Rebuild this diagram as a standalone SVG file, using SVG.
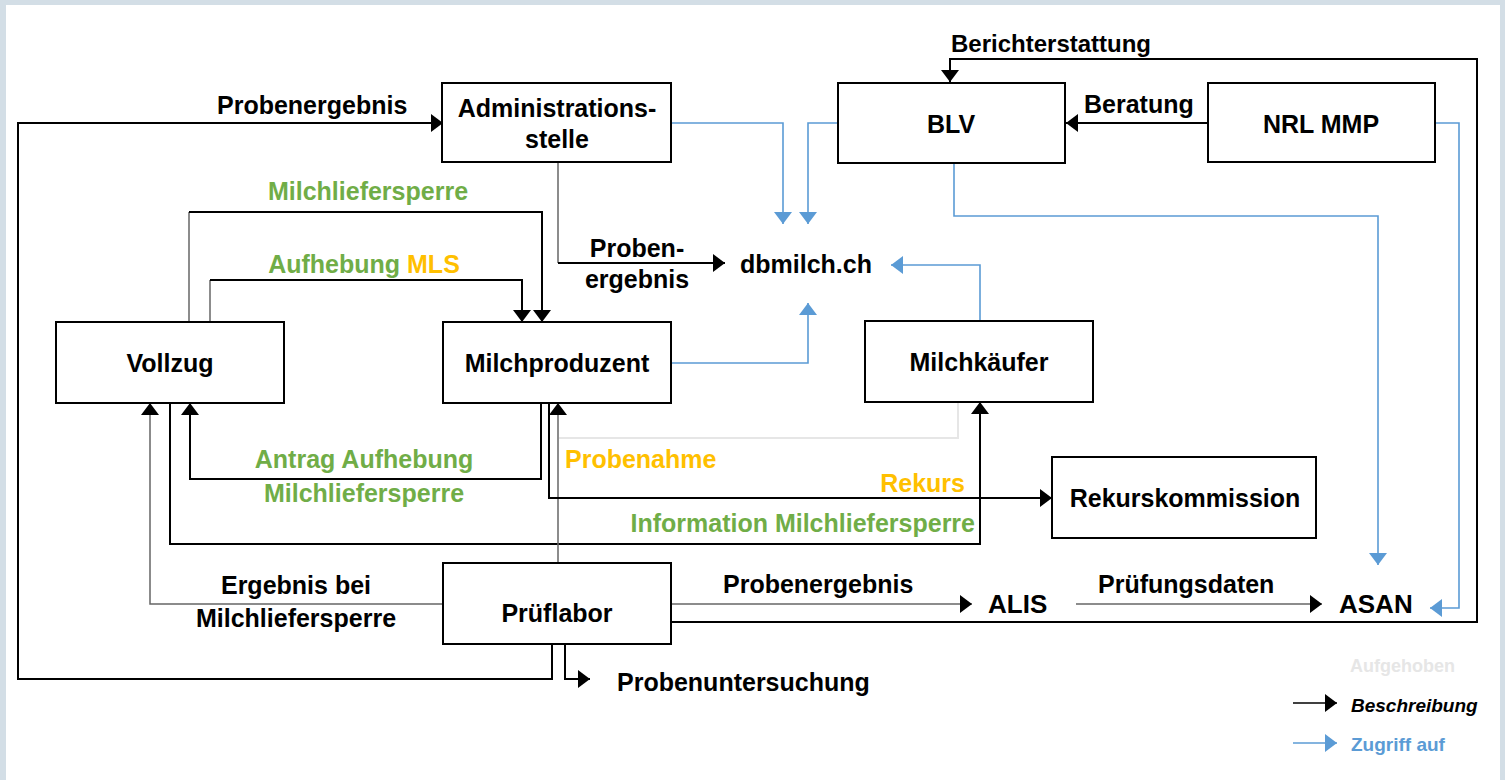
<svg xmlns="http://www.w3.org/2000/svg" width="1505" height="780" viewBox="0 0 1505 780">
<style>
text{font-family:"Liberation Sans",Arial,sans-serif;font-weight:bold;font-size:25px;fill:#000}
.node rect{fill:#fff;stroke:#000;stroke-width:2}
.k{fill:none;stroke:#000;stroke-width:2}
.g{fill:none;stroke:#666;stroke-width:1.5}
.b{fill:none;stroke:#5b9bd5;stroke-width:1.6}
.a{fill:none;stroke:#e6e6e6;stroke-width:2}
.gr{fill:#70ad47}
.or{fill:#ffc000}
.mid{text-anchor:middle}
.end{text-anchor:end}
text.s24{font-size:24px}
text.s26{font-size:26px}
text.lg{font-size:18px}
text.lg19{font-size:19px}
</style>
<defs>
<marker id="ak" markerUnits="userSpaceOnUse" markerWidth="13" markerHeight="18" refX="12" refY="9" orient="auto" overflow="visible">
<path d="M0,0 L12,9 L0,18 Z" fill="#000"/>
</marker>
<marker id="ab" markerUnits="userSpaceOnUse" markerWidth="13" markerHeight="18" refX="12" refY="9" orient="auto" overflow="visible">
<path d="M0,0 L12,9 L0,18 Z" fill="#5b9bd5"/>
</marker>
</defs>
<rect x="0" y="0" width="1505" height="780" fill="#d3dee6"/>
<rect x="6" y="5" width="1494" height="775" fill="#fff"/>

<g id="connectors">
<path class="k" d="M552,644 V679 H18 V123 H443" marker-end="url(#ak)"/>
<path class="g" d="M558,162 V263"/>
<path class="k" d="M558,263 H725" marker-end="url(#ak)"/>
<path class="g" d="M189,322 V212"/>
<path class="k" d="M189,212 H542 V322" marker-end="url(#ak)"/>
<path class="g" d="M210,322 V280"/>
<path class="k" d="M210,280 H522 V322" marker-end="url(#ak)"/>
<path class="k" d="M541,403 V479 H190 V403" marker-end="url(#ak)"/>
<path class="k" d="M170,403 V544 H980 V402" marker-end="url(#ak)"/>
<path class="g" d="M443,604 H150 V403" marker-end="url(#ak)"/>
<path class="a" d="M559,438 H958 V402"/>
<path class="g" d="M558,563 V403" marker-end="url(#ak)"/>
<path class="k" d="M549,403 V498 H1052" marker-end="url(#ak)"/>
<path class="k" d="M565,644 V679 H590" marker-end="url(#ak)"/>
<path class="g" d="M671,604 H972" marker-end="url(#ak)"/>
<path class="g" d="M1076,604 H1322" marker-end="url(#ak)"/>
<path class="k" d="M671,622 H1477 V59 H950 V82" marker-end="url(#ak)"/>
<path class="k" d="M1208,123 H1066" marker-end="url(#ak)"/>
<path class="b" d="M671,123 H783 V224" marker-end="url(#ab)"/>
<path class="b" d="M838,123 H808 V224" marker-end="url(#ab)"/>
<path class="b" d="M671,363 H808 V303" marker-end="url(#ab)"/>
<path class="b" d="M980,321 V265 H891" marker-end="url(#ab)"/>
<path class="b" d="M954,163 V216 H1378 V565" marker-end="url(#ab)"/>
<path class="b" d="M1435,123 H1459 V608 H1430" marker-end="url(#ab)"/>
<path class="k" d="M1293,703 H1337" style="stroke-width:1.5" marker-end="url(#ak)"/>
<path class="b" d="M1293,743 H1337" marker-end="url(#ab)"/>
</g>

<g id="labels">
<text x="217" y="114">Probenergebnis</text>
<text class="s24" x="951" y="52">Berichterstattung</text>
<text x="1084" y="113">Beratung</text>
<text class="mid" x="637" y="257">Proben-</text>
<text class="mid" x="637" y="288">ergebnis</text>
<text class="mid gr" x="368" y="200">Milchliefersperre</text>
<text class="mid" x="364" y="273"><tspan class="gr">Aufhebung </tspan><tspan class="or">MLS</tspan></text>
<text class="mid gr" x="364" y="468">Antrag Aufhebung</text>
<text class="mid gr" x="364" y="502">Milchliefersperre</text>
<text class="or" x="565" y="468">Probenahme</text>
<text class="end or" x="965" y="492">Rekurs</text>
<text class="end gr" x="975" y="532">Information Milchliefersperre</text>
<text class="mid" x="296" y="594">Ergebnis bei</text>
<text class="mid" x="296" y="627">Milchliefersperre</text>
<text x="723" y="593">Probenergebnis</text>
<text x="1098" y="593">Prüfungsdaten</text>
<text x="617" y="691">Probenuntersuchung</text>
<text x="740" y="273">dbmilch.ch</text>
<text class="s26" x="988" y="613">ALIS</text>
<text class="s26" x="1339" y="613">ASAN</text>
</g>

<g id="node-admin" class="node"><rect x="442" y="83" width="229" height="79"/><text class="mid" x="557" y="117">Administrations-</text><text class="mid" x="557" y="148">stelle</text></g>
<g id="node-blv" class="node"><rect x="838" y="83" width="227" height="80"/><text class="mid" x="951" y="133">BLV</text></g>
<g id="node-nrl" class="node"><rect x="1208" y="83" width="227" height="79"/><text class="mid" x="1321" y="133">NRL MMP</text></g>
<g id="node-vollzug" class="node"><rect x="56" y="322" width="228" height="81"/><text class="mid" x="170" y="372">Vollzug</text></g>
<g id="node-milchproduzent" class="node"><rect x="443" y="322" width="228" height="81"/><text class="mid" x="557" y="372">Milchproduzent</text></g>
<g id="node-milchkaeufer" class="node"><rect x="865" y="321" width="228" height="81"/><text class="mid" x="979" y="371">Milchkäufer</text></g>
<g id="node-rekurs" class="node"><rect x="1052" y="457" width="264" height="81"/><text class="mid" x="1185" y="507">Rekurskommission</text></g>
<g id="node-prueflabor" class="node"><rect x="443" y="563" width="228" height="81"/><text class="mid" x="557" y="622">Prüflabor</text></g>

<g id="legend">
<text class="lg" x="1350" y="672" style="fill:#e6e6e6">Aufgehoben</text>
<text class="lg19" x="1351" y="712" style="font-style:italic">Beschreibung</text>
<text class="lg19" x="1351" y="751" style="fill:#5b9bd5">Zugriff auf</text>
</g>
</svg>
